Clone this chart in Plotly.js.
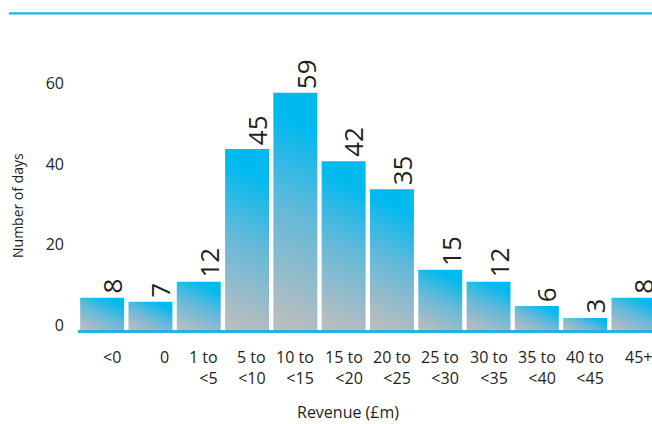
<!DOCTYPE html>
<html>
<head>
<meta charset="utf-8">
<script src="https://cdn.plot.ly/plotly-3.0.1.min.js"></script>
<style>
  html, body { margin: 0; padding: 0; background: #ffffff; }
  #chart { width: 652px; height: 424px; }
</style>
</head>
<body>
<div id="chart"></div>
<script>
// ---- data ----
const categories = ['<0', '0', '1 to <5', '5 to <10', '10 to <15', '15 to <20', '20 to <25',
                    '25 to <30', '30 to <35', '35 to <40', '40 to <45', '45+'];
const tickLabels = ['&lt;0', '0', '1 to<br>&lt;5', '5 to<br>&lt;10', '10 to<br>&lt;15', '15 to<br>&lt;20',
                    '20 to<br>&lt;25', '25 to<br>&lt;30', '30 to<br>&lt;35', '35 to<br>&lt;40',
                    '40 to<br>&lt;45', '45+'];
const days = [8, 7, 12, 45, 59, 42, 35, 15, 12, 6, 3, 8];
const yTicks = [0, 20, 40, 60];
const xTitle = 'Revenue (£m)';
const yTitle = 'Number of days';

// ---- layout geometry (pixels) ----
const W = 652, H = 424;
const M = { l: 78, r: 0, t: 69, b: 94 };
const plotW = W - M.l - M.r, plotH = H - M.t - M.b;
const px2paperX = px => (px - M.l) / plotW;
const px2paperY = py => (H - M.b - py) / plotH;

const textColor = '#231f20';
const fontFam = '"Open Sans", "Noto Sans", sans-serif';

const annotations = [];
// category labels (right-aligned block under each bar); x given as category index
categories.forEach((c, i) => {
  annotations.push({
    xref: 'x', yref: 'paper', x: i, y: px2paperY(344),
    text: tickLabels[i], showarrow: false,
    xanchor: 'right', yanchor: 'top', align: 'right', xshift: 21,
    font: { family: fontFam, size: 16, color: textColor }
  });
});
// value labels above bars (rotated)
categories.forEach((c, i) => {
  annotations.push({
    xref: 'x', yref: 'y', x: i, y: days[i],
    text: String(days[i]), showarrow: false, textangle: -90,
    xanchor: 'center', yanchor: 'bottom', xshift: 10, yshift: 2,
    font: { family: fontFam, size: 26, color: textColor }
  });
});
// axis titles
annotations.push({
  xref: 'paper', yref: 'paper', x: px2paperX(348), y: px2paperY(412),
  text: xTitle, showarrow: false, xanchor: 'center', yanchor: 'middle',
  font: { family: fontFam, size: 16, color: textColor }
});
annotations.push({
  xref: 'paper', yref: 'paper', x: px2paperX(17), y: px2paperY(206),
  text: yTitle, showarrow: false, textangle: -90, xanchor: 'center', yanchor: 'middle',
  font: { family: fontFam, size: 14, color: textColor }
});

const trace = {
  type: 'bar', x: categories, y: days,
  marker: { color: '#00b9ef', line: { width: 0 } },
  hoverinfo: 'skip'
};

const layout = {
  width: W, height: H,
  margin: M,
  paper_bgcolor: '#ffffff', plot_bgcolor: '#ffffff',
  showlegend: false,
  bargap: 0.09,
  xaxis: {
    type: 'category', range: [-0.5, plotW / 48.3 - 0.5],
    showticklabels: false, ticks: '', showgrid: false, zeroline: false,
    showline: true, linecolor: '#22b2e6', linewidth: 2.5, fixedrange: true
  },
  yaxis: {
    range: [0, plotH / 4.02], tickvals: yTicks, ticks: '',
    showgrid: false, zeroline: false, showline: false,
    ticklabelstandoff: 13, ticklabelshift: -5,
    tickfont: { family: fontFam, size: 16, color: textColor }, fixedrange: true
  },
  annotations: annotations,
  shapes: [{
    type: 'line', xref: 'paper', yref: 'paper',
    x0: px2paperX(9), x1: px2paperX(660), y0: px2paperY(13.3), y1: px2paperY(13.3),
    line: { color: '#17b3ea', width: 2.2 }
  }]
};

Plotly.newPlot('chart', [trace], layout, { displayModeBar: false, staticPlot: true }).then(gd => {
  const svgNS = 'http://www.w3.org/2000/svg';
  const svg = gd.querySelector('svg.main-svg');
  let defs = svg.querySelector('defs');
  if (!defs) { defs = document.createElementNS(svgNS, 'defs'); svg.insertBefore(defs, svg.firstChild); }
  const theta = 25 * Math.PI / 180;
  const sx = Math.sin(theta), sy = Math.cos(theta);
  gd.querySelectorAll('.barlayer .point path').forEach((p, i) => {
    const b = p.getBBox();
    if (!b.width || !b.height) return;
    const L = b.width * sx + b.height * sy;
    const g = document.createElementNS(svgNS, 'linearGradient');
    g.setAttribute('id', 'barGrad' + i);
    g.setAttribute('gradientUnits', 'userSpaceOnUse');
    g.setAttribute('x1', b.x);
    g.setAttribute('y1', b.y + b.height);
    g.setAttribute('x2', b.x + sx * L);
    g.setAttribute('y2', b.y + b.height - sy * L);
    [[0, '#c2bdbc'], [0.5, '#62b9da'], [0.85, '#00b9ef'], [1, '#00b9ef']].forEach(([o, c]) => {
      const s = document.createElementNS(svgNS, 'stop');
      s.setAttribute('offset', o);
      s.setAttribute('stop-color', c);
      g.appendChild(s);
    });
    defs.appendChild(g);
    p.style.fill = 'url(#barGrad' + i + ')';
  });
});
</script>
</body>
</html>
